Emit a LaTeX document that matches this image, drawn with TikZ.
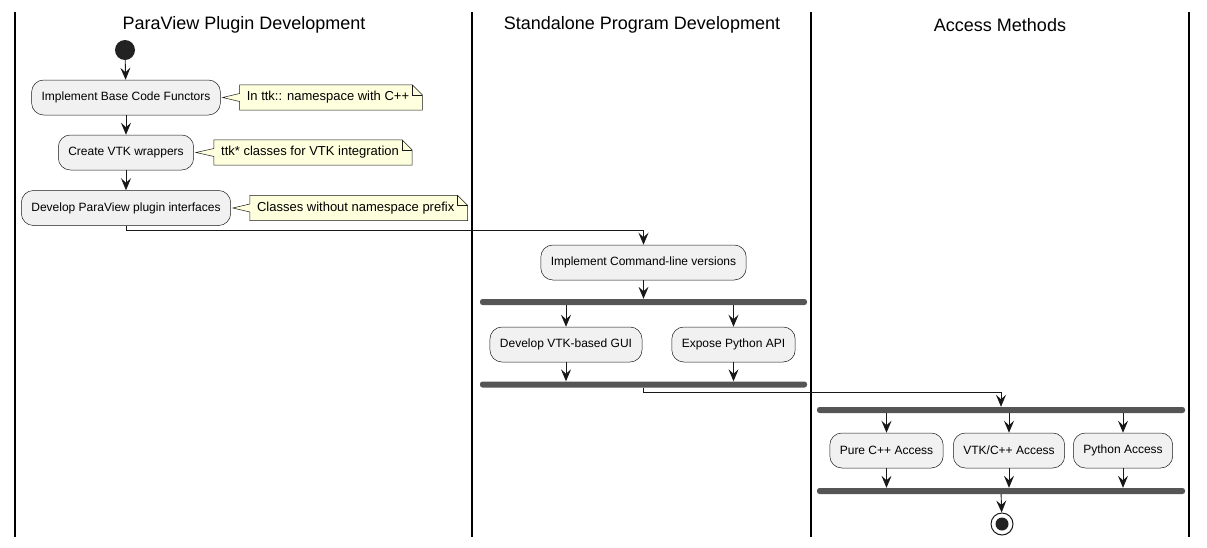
\documentclass[tikz,border=0pt]{standalone}
\usepackage{fontspec}
\setmainfont{Liberation Sans}
\usetikzlibrary{calc,positioning,arrows.meta,backgrounds}

\definecolor{actfill}{HTML}{F1F1F1}
\definecolor{notefill}{HTML}{FEFFDD}
\definecolor{linecol}{HTML}{181818}
\definecolor{barcol}{HTML}{555555}
\definecolor{dotcol}{HTML}{222222}

\tikzset{
act/.style={draw=linecol,fill=actfill,rounded corners=12pt,minimum height=35pt,inner xsep=10pt,line width=0.5pt,font=\fontsize{12}{14}\selectfont},
notetext/.style={inner xsep=0pt,minimum height=25pt,font=\fontsize{13}{15}\selectfont,
  execute at begin node=\hspace*{7pt},execute at end node=\hspace*{13pt}},
bar/.style={fill=barcol,rounded corners=2.5pt,minimum height=6pt,inner sep=0pt},
flow/.style={draw=linecol,line width=0.9pt,-{Stealth[length=12pt,width=10pt,inset=4.5pt]}},
lane/.style={line width=1.3pt},
lanetitle/.style={font=\fontsize{18}{21}\selectfont}
}
\newcommand{\notepath}[2]{%
\draw[draw=linecol,fill=notefill,line width=0.5pt]
(#1.north west)--($(#1.north east)+(-10,0)$)--($(#1.north east)+(0,10)$)--(#1.south east)--(#1.south west)
--($(#1.west)+(0,4)$)--($(#2.east)+(2,0)$)--($(#1.west)+(0,-4)$)--cycle;
\draw[draw=linecol,line width=0.5pt]($(#1.north east)+(-10,0)$)|-($(#1.north east)+(0,10)$);}

\begin{document}
\begin{tikzpicture}[x=1pt,y=-1pt]
\useasboundingbox (0,0) rectangle (1207,547);
\draw[lane](15,12)--(15,537);
\draw[lane](472,12)--(472,537);
\draw[lane](811,12)--(811,537);
\draw[lane](1189,12)--(1189,537);
\node[lanetitle](t1)at(244,25){ParaView Plugin Development};
\node[lanetitle](t2)at(642,25){Standalone Program Development};
\node[lanetitle](t3)at(1000,25){Access Methods};

\node[circle,fill=dotcol,minimum size=20pt,inner sep=0pt](start)at(125,50){};
\node[act](impl)at(126,97.5){Implement Base Code Functors};
\node[act](wrap)at(126,152.5){Create VTK wrappers};
\node[act](plug)at(126,208){Develop ParaView plugin interfaces};
\node[notetext,right=19pt of impl](n1){In ttk:: namespace with C++};
\node[notetext,right=20pt of wrap](n2){ttk* classes for VTK integration};
\node[notetext,right=19pt of plug](n3){Classes without namespace prefix};
\begin{scope}[on background layer]
\notepath{n1}{impl}
\notepath{n2}{wrap}
\notepath{n3}{plug}
\end{scope}

\node[act](cmd)at(643.5,262.5){Implement Command-line versions};
\node[bar,minimum width=327pt](fork1)at(643.5,302){};
\node[act](gui)at(566,344.5){Develop VTK-based GUI};
\node[act](py)at(733.5,344.5){Expose Python API};
\node[bar,minimum width=327pt](join1)at(643.5,384.5){};

\node[bar,minimum width=368pt](fork2)at(1001,410){};
\node[act](cpp)at(886.5,450.5){Pure C++ Access};
\node[act](vtk)at(1009,450.5){VTK/C++ Access};
\node[act](pyacc)at(1123,450.5){Python Access};
\node[bar,minimum width=368pt](join2)at(1001,491){};
\node[circle,draw=linecol,line width=1pt,minimum size=22pt,inner sep=0pt,
path picture={\fill[dotcol](path picture bounding box.center)circle(6.5pt);}](stop)at(1002,524){};

\draw[flow](start)--(impl);
\draw[flow](impl)--(wrap);
\draw[flow](wrap)--(plug);
\draw[flow](plug.south)--++(0,5)-|(cmd.north);
\draw[flow](cmd)--(fork1);
\draw[flow](fork1.south-|gui.north)--(gui);
\draw[flow](fork1.south-|py.north)--(py);
\draw[flow](gui)--(gui.south|-join1.north);
\draw[flow](py)--(py.south|-join1.north);
\draw[flow](join1.south)--++(0,5)-|(fork2.north);
\draw[flow](fork2.south-|cpp.north)--(cpp);
\draw[flow](fork2.south-|vtk.north)--(vtk);
\draw[flow](fork2.south-|pyacc.north)--(pyacc);
\draw[flow](cpp)--(cpp.south|-join2.north);
\draw[flow](vtk)--(vtk.south|-join2.north);
\draw[flow](pyacc)--(pyacc.south|-join2.north);
\draw[flow](join2)--(stop);
\end{tikzpicture}
\end{document}
